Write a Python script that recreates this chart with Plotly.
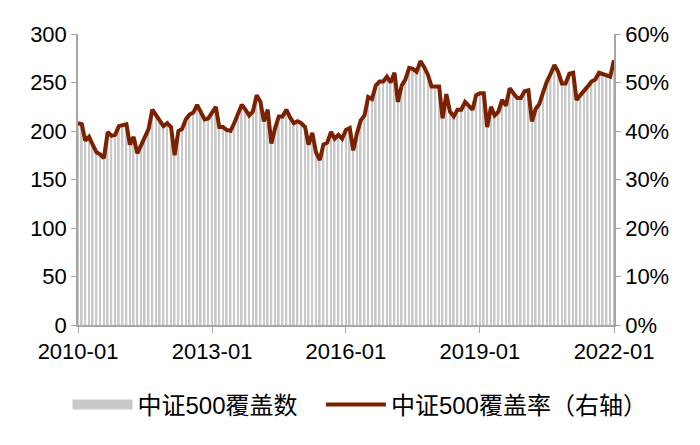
import plotly.graph_objects as go
import pandas as pd

months = pd.date_range("2010-01-01", "2022-01-01", freq="MS").strftime("%Y-%m-%d").tolist()

coverage_count = [
    208, 207, 190, 194, 186, 178, 176, 172, 199, 195, 196, 205,
    206, 207, 186, 194, 177, 186, 194, 202, 222, 216, 210, 205,
    208, 204, 175, 200, 202, 212, 217, 219, 227, 219, 212, 213,
    220, 225, 204, 204, 201, 200, 208, 218, 227, 222, 216, 220,
    237, 230, 210, 222, 187, 203, 215, 215, 222, 214, 208, 210,
    208, 204, 186, 198, 178, 170, 186, 188, 199, 192, 196, 192,
    201, 203, 180, 198, 211, 216, 235, 233, 247, 251, 251, 256,
    250, 260, 230, 247, 253, 265, 264, 261, 272, 266, 258, 246,
    246, 246, 213, 238, 220, 215, 222, 222, 230, 226, 222, 237,
    239, 239, 204, 225, 216, 220, 232, 226, 244, 239, 234, 234,
    241, 242, 210, 223, 228, 240, 251, 259, 268, 261, 249, 249,
    259, 260, 232, 237, 241, 246, 251, 253, 260, 259, 258, 256,
    273,
]
index_size = 500
coverage_rate = [c / index_size for c in coverage_count]

left_ticks = [0, 50, 100, 150, 200, 250, 300]
right_ticks = [0, 0.1, 0.2, 0.3, 0.4, 0.5, 0.6]
x_ticks = ["2010-01-01", "2013-01-01", "2016-01-01", "2019-01-01", "2022-01-01"]
x_tick_labels = ["2010-01", "2013-01", "2016-01", "2019-01", "2022-01"]

FONT = "Arial, Liberation Sans, Noto Sans CJK SC, sans-serif"
AXIS_COLOR = "#a6a6a6"
BAR_COLOR = "#c9c9c9"
LINE_COLOR = "#7a2100"

fig = go.Figure()
fig.add_trace(go.Bar(
    x=months, y=coverage_count, name="中证500覆盖数",
    marker=dict(color=BAR_COLOR, line=dict(width=0)),
    yaxis="y", showlegend=False,
))
# legend-only swatch for the bar series (wide grey block like the original)
fig.add_trace(go.Scatter(
    x=[None], y=[None], name="中证500覆盖数",
    mode="lines", line=dict(color=BAR_COLOR, width=14),
    yaxis="y", legend="legend",
))
fig.add_trace(go.Scatter(
    x=months, y=coverage_rate, name="中证500覆盖率（右轴）",
    mode="lines", line=dict(color=LINE_COLOR, width=4),
    yaxis="y2", legend="legend2",
))

legend_common = dict(
    orientation="h", xref="container", yref="container",
    xanchor="left", y=0.108, yanchor="middle",
    font=dict(size=24), itemwidth=60, bgcolor="rgba(0,0,0,0)",
)

fig.update_layout(
    width=700, height=445,
    margin=dict(l=70, r=94, t=26, b=128, autoexpand=False),
    paper_bgcolor="white", plot_bgcolor="white",
    font=dict(family=FONT, size=22, color="black"),
    bargap=0.5,
    showlegend=True,
    legend=dict(x=0.085, **legend_common),
    legend2=dict(x=0.447, **legend_common),
    xaxis=dict(
        type="date",
        range=["2010-01-01", "2022-01-01"],
        tickvals=x_ticks, ticktext=x_tick_labels,
        showline=True, linecolor=AXIS_COLOR, linewidth=1.5,
        ticks="outside", ticklen=6, tickcolor=AXIS_COLOR,
        showgrid=False, zeroline=False, automargin=False,
    ),
    yaxis=dict(
        range=[0, 300], tickvals=left_ticks,
        showline=True, linecolor=AXIS_COLOR, linewidth=1.5,
        ticks="outside", ticklen=5, tickcolor=AXIS_COLOR,
        showgrid=False, zeroline=False, automargin=False,
    ),
    yaxis2=dict(
        range=[0, 0.6], tickvals=right_ticks, tickformat=".0%",
        overlaying="y", side="right",
        showline=True, linecolor=AXIS_COLOR, linewidth=1.5,
        ticks="outside", ticklen=5, tickcolor=AXIS_COLOR,
        showgrid=False, zeroline=False, automargin=False,
    ),
)

fig.write_html("out.html")
